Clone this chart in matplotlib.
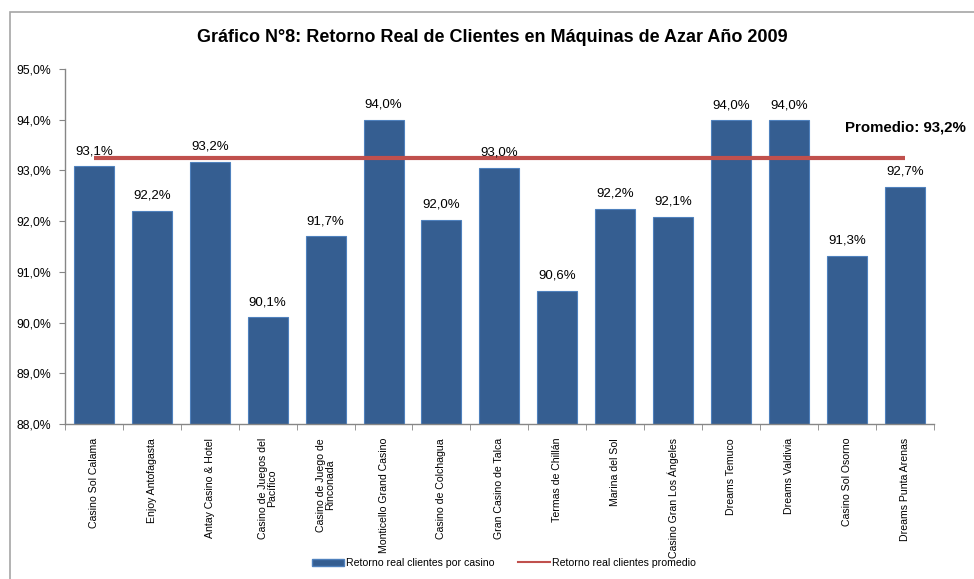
"""Gráfico N°8: Retorno real de clientes en máquinas de azar, año 2009."""

import matplotlib

matplotlib.use("Agg")
import matplotlib.pyplot as plt
import matplotlib.patches as mpatches
from matplotlib.lines import Line2D
from matplotlib.ticker import FixedLocator, FuncFormatter

plt.rcParams.update(
    {
        "font.family": ["Liberation Sans Narrow", "Liberation Sans", "DejaVu Sans"],
        "font.size": 8,
        "figure.facecolor": "white",
    }
)

# --- data ---------------------------------------------------------------
casinos = [
    "Casino Sol Calama",
    "Enjoy Antofagasta",
    "Antay Casino & Hotel",
    "Casino de Juegos del\nPacífico",
    "Casino de Juego de\nRinconada",
    "Monticello Grand Casino",
    "Casino de Colchagua",
    "Gran Casino de Talca",
    "Termas de Chillán",
    "Marina del Sol",
    "Casino Gran Los Ángeles",
    "Dreams Temuco",
    "Dreams Valdivia",
    "Casino Sol Osorno",
    "Dreams Punta Arenas",
]
retorno = [93.08, 92.20, 93.17, 90.10, 91.70, 94.00, 92.03, 93.05,
           90.62, 92.24, 92.08, 93.99, 93.99, 91.32, 92.68]
promedio = 93.24
y_ticks = [88, 89, 90, 91, 92, 93, 94, 95]

C = {
    "bar": "#355E91",
    "bar_edge": "#4F81BD",
    "line": "#C0504D",
    "axis": "#868686",
    "text": "#000000",
    "frame": "#A6A6A6",
}


def pct(v):
    return f"{v:.1f}%".replace(".", ",")


fig = plt.figure(figsize=(9.74, 5.79), dpi=100)
ax = fig.add_axes([0.0667, 0.2677, 0.892, 0.6133])

# outer chart frame
fig.patches.append(
    mpatches.Rectangle(
        (10 / 974, -0.05), 1.2, 1 - 12 / 579 + 0.05,
        transform=fig.transFigure, fill=False, edgecolor=C["frame"], lw=1.2,
        zorder=0,
    )
)

x = list(range(len(casinos)))
ax.bar(x, retorno, width=0.69, color=C["bar"], edgecolor=C["bar_edge"],
       linewidth=0.8, zorder=2)
ax.plot([x[0], x[-1]], [promedio, promedio], color=C["line"], lw=3,
        solid_capstyle="butt", zorder=3)

for xi, v in zip(x, retorno):
    ax.text(xi, v + 0.18, pct(round(v, 1)), ha="center", va="bottom",
            fontsize=9.5, color=C["text"], zorder=4)

ax.set_ylim(88, 95)
ax.set_xlim(-0.5, len(casinos) - 0.5)
ax.set_yticks(y_ticks)
ax.yaxis.set_major_formatter(FuncFormatter(lambda v, _: pct(v)))
ax.set_xticks(x)
ax.set_xticklabels(casinos, rotation=90, fontsize=7.6, linespacing=0.95)
ax.tick_params(axis="x", which="major", length=0, pad=10)
ax.xaxis.set_minor_locator(FixedLocator([i - 0.5 for i in range(len(casinos) + 1)]))
ax.tick_params(axis="x", which="minor", length=4, color=C["axis"])
ax.tick_params(axis="y", length=4, color=C["axis"], labelsize=8.8, pad=6)

for side in ("top", "right"):
    ax.spines[side].set_visible(False)
for side in ("left", "bottom"):
    ax.spines[side].set_color(C["axis"])
    ax.spines[side].set_linewidth(1.0)

fig.text(492 / 974, 1 - 38 / 579, "Gráfico N°8: Retorno Real de Clientes en Máquinas de Azar Año 2009",
         ha="center", va="center", fontsize=13, fontweight="bold")
fig.text(845 / 974, 1 - 127 / 579, "Promedio: " + pct(round(promedio, 1)),
         ha="left", va="center", fontsize=10.8, fontweight="bold")

handles = [
    mpatches.Patch(facecolor=C["bar"], edgecolor=C["bar_edge"]),
    Line2D([0], [0], color=C["line"], lw=1.5),
]
fig.legend(handles, ["Retorno real clientes por casino", "Retorno real clientes promedio"],
           loc="center", bbox_to_anchor=(504 / 974, 1 - 563 / 579), ncol=2, frameon=False,
           fontsize=7.6, handlelength=3.0, handleheight=0.6, columnspacing=2.3,
           handletextpad=0.2)

fig.savefig("out.png", dpi=100)
